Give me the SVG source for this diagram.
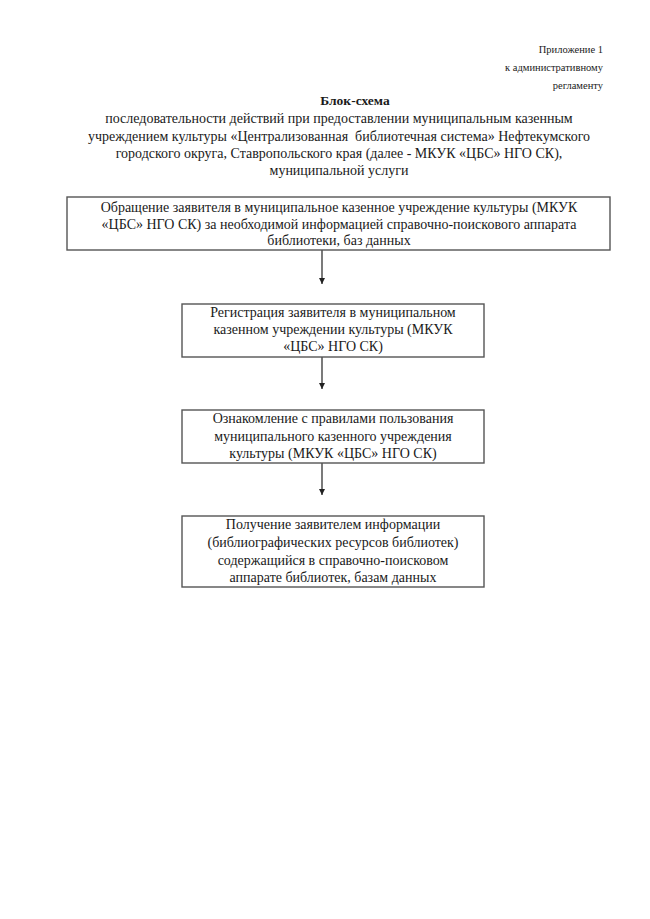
<svg xmlns="http://www.w3.org/2000/svg" width="650" height="919" viewBox="0 0 650 919">
<style>
text{font-family:"Liberation Serif","Times New Roman",serif;fill:#1a1a1a}
.hd{font-size:10.5px;text-anchor:end}
.t{font-size:14px;text-anchor:middle}
.b{font-size:13.5px;font-weight:bold;text-anchor:middle}
.box{fill:#fff;stroke:#555;stroke-width:1.4}
.c{stroke:#222;stroke-width:1.2;fill:none}
</style>
<defs>
<marker id="ah" markerWidth="8" markerHeight="8" refX="6" refY="3" orient="auto" markerUnits="userSpaceOnUse">
<path d="M0,0 L6,3 L0,6 Z" fill="#222"/>
</marker>
</defs>
<rect width="650" height="919" fill="#fff"/>
<g id="header">
<text class="hd" x="603" y="53">Приложение 1</text>
<text class="hd" x="603" y="71">к административному</text>
<text class="hd" x="603" y="89">регламенту</text>
<text class="b" x="355" y="105">Блок-схема</text>
<text class="t" x="339" y="123">последовательности действий при предоставлении муниципальным казенным</text>
<text class="t" x="339" y="141" xml:space="preserve">учреждением культуры «Централизованная  библиотечная система» Нефтекумского</text>
<text class="t" x="339" y="158">городского округа, Ставропольского края (далее - МКУК «ЦБС» НГО СК),</text>
<text class="t" x="339" y="175">муниципальной услуги</text>
</g>
<g id="connectors">
<line class="c" x1="322" y1="250" x2="322" y2="284" marker-end="url(#ah)"/>
<line class="c" x1="322" y1="357" x2="322" y2="389" marker-end="url(#ah)"/>
<line class="c" x1="322" y1="463" x2="322" y2="495" marker-end="url(#ah)"/>
</g>
<g id="node1">
<rect class="box" x="67" y="197" width="543" height="53"/>
<text class="t" x="339" y="212">Обращение заявителя в муниципальное казенное учреждение культуры (МКУК</text>
<text class="t" x="339" y="229">«ЦБС» НГО СК) за необходимой информацией справочно-поискового аппарата</text>
<text class="t" x="339" y="245">библиотеки, баз данных</text>
</g>
<g id="node2">
<rect class="box" x="182" y="304" width="302" height="53"/>
<text class="t" x="333" y="317">Регистрация заявителя в муниципальном</text>
<text class="t" x="333" y="334">казенном учреждении культуры (МКУК</text>
<text class="t" x="333" y="351">«ЦБС» НГО СК)</text>
</g>
<g id="node3">
<rect class="box" x="182" y="410" width="302" height="53"/>
<text class="t" x="333" y="423">Ознакомление с правилами пользования</text>
<text class="t" x="333" y="441">муниципального казенного учреждения</text>
<text class="t" x="333" y="458">культуры (МКУК «ЦБС» НГО СК)</text>
</g>
<g id="node4">
<rect class="box" x="182" y="516" width="302" height="71"/>
<text class="t" x="333" y="529">Получение заявителем информации</text>
<text class="t" x="333" y="547">(библиографических ресурсов библиотек)</text>
<text class="t" x="333" y="565">содержащийся в справочно-поисковом</text>
<text class="t" x="333" y="582">аппарате библиотек, базам данных</text>
</g>
</svg>
